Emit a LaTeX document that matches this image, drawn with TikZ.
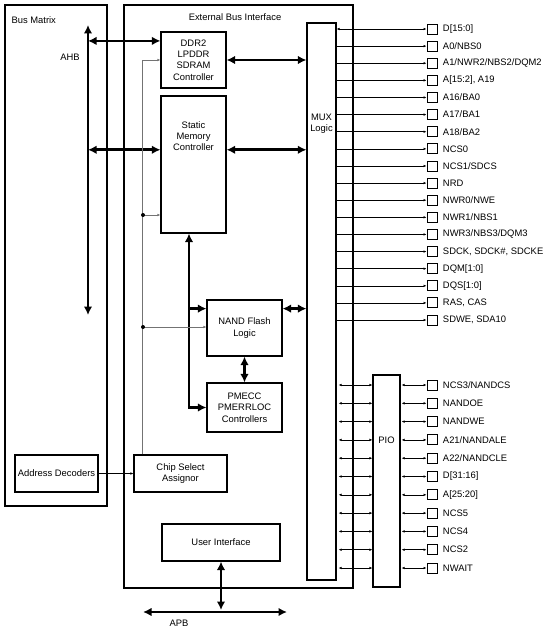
\documentclass[tikz,border=0pt]{standalone}
\usepackage{fontspec}
\setmainfont{Liberation Sans}
\usetikzlibrary{arrows.meta}
\begin{document}
\begin{tikzpicture}[x=1pt,y=-1pt,>={Latex[length=3pt,width=2.6pt]}]
    \tikzstyle{every node}=[font=\fontsize{9.4}{11.3}\selectfont]
    \tikzstyle{blk}=[draw,line width=1.1pt,align=center,inner sep=0pt]
    \tikzstyle{bus}=[line width=2.8pt,{Latex[length=8.5pt,width=8.5pt]}-{Latex[length=8.5pt,width=8.5pt]}]
    \tikzstyle{tobus}=[line width=2.8pt,-{Latex[length=8.5pt,width=8.5pt]}]
    \tikzstyle{ctl}=[black!55,line width=0.7pt]
    \tikzstyle{sig}=[line width=0.6pt]
    \tikzstyle{pad}=[draw,line width=0.9pt,minimum size=10pt,inner sep=0pt]

    \useasboundingbox (0,0) rectangle (550,631);

    % outer blocks
    \node[blk,minimum width=102pt,minimum height=501pt] (bm) at (56,255.5) {};
    \node[right] (bmlabel) at (8,20) {Bus Matrix};
    \node[blk,minimum width=229pt,minimum height=583pt] (ebi) at (238.5,296.5) {};
    \node (ebilabel) at (235,17) {External Bus Interface};

    % inner blocks
    \node[blk,minimum width=65pt,minimum height=56pt] (ddr) at (193.5,60)
    {DDR2\\LPDDR\\SDRAM\\Controller};
    \node[blk,minimum width=65pt,minimum height=137pt] (smc) at (193.5,164.5) {};
    \node[align=center] (smclabel) at (193.5,136) {Static\\Memory\\Controller};
    \node[blk,minimum width=75pt,minimum height=56pt] (nand) at (244.5,328)
    {NAND Flash\\Logic};
    \node[blk,minimum width=75pt,minimum height=49pt] (pmecc) at (244.5,407.5)
    {PMECC\\PMERRLOC\\Controllers};
    \node[blk,minimum width=29pt,minimum height=557pt] (mux) at (321.5,301.5) {};
    \node[align=center] (muxlabel) at (321.5,124) {MUX\\Logic};
    \node[blk,minimum width=27pt,minimum height=212pt] (pio) at (386.5,481) {};
    \node (piolabel) at (386.5,440) {PIO};
    \node[blk,minimum width=83pt,minimum height=37pt] (addr) at (56.5,473.5)
    {Address Decoders};
    \node[blk,minimum width=93pt,minimum height=37pt] (csa) at (180.5,473.5)
    {Chip Select\\Assignor};
    \node[blk,minimum width=118pt,minimum height=37pt] (ui) at (221,542.5)
    {User Interface};

    % AHB side
    \coordinate (ahbt) at (88,25);
    \coordinate (ahbb) at (88,315);
    \draw[bus] (ahbt) -- (ahbb);
    \node (ahb) at (70,57) {AHB};
    \draw[bus] (ahbt |- ddr.150) -- (ddr.150);
    \draw[bus] (ahbt |- smc.156) -- (smc.156);

    % to MUX
    \draw[bus] (ddr.east) -- (mux.west |- ddr.east);
    \draw[bus] (smc.24) -- (mux.west |- smc.24);
    \draw[bus] (nand.27) -- (mux.west |- nand.27);

    % NAND path
    \coordinate (nb) at ([xshift=-4.5pt]smc.south);
    \draw[bus] (nb) |- (pmecc.west);
    \draw[tobus] (nb |- nand.153) -- (nand.153);
    \draw[bus] (nand.south) -- (pmecc.north);

    % chip selects
    \coordinate (cs) at ([xshift=9pt]csa.north west);
    \coordinate (tap1) at (143,215);
    \coordinate (tap2) at (143,327);
    \draw[ctl,->] (cs) |- (ddr.west);
    \draw[ctl,->] (tap1) -- (tap1 -| smc.west);
    \draw[ctl,->] (tap2) -- (tap2 -| nand.west);
    \fill (tap1) circle (2pt);
    \fill (tap2) circle (2pt);
    \draw[sig,->] (addr.east) -- (csa.west);

    % APB
    \coordinate (apbl) at (143,612);
    \coordinate (apbr) at (287,612);
    \draw[bus] (apbl) -- (apbr);
    \draw[bus,shorten >=2pt] (ui.south) -- (ui.south |- apbl);
    \node (apb) at (179,623) {APB};

    % EBI pins
    \foreach \name [count=\i] in {{D[15:0]},{A0/NBS0},{A1/NWR2/NBS2/DQM2},{A[15:2], A19},
        {A16/BA0},{A17/BA1},{A18/BA2},{NCS0},{NCS1/SDCS},{NRD},{NWR0/NWE},
        {NWR1/NBS1},{NWR3/NBS3/DQM3},{SDCK, SDCK\#, SDCKE},{DQM[1:0]},{DQS[1:0]},
        {RAS, CAS},{SDWE, SDA10}} {
        \node[pad] (m\i) at (432,29+17.12*\i-17.12) {};
        \node[right,xshift=2pt] (ml\i) at (m\i.east) {\name};
        \ifnum\i=1
            \draw[sig,<->] (mux.east |- m\i) -- (m\i);
        \else
            \draw[sig,->] (mux.east |- m\i) -- (m\i);
        \fi
    }

    % PIO pins
    \foreach \name [count=\i] in {{NCS3/NANDCS},{NANDOE},{NANDWE},{A21/NANDALE},
        {A22/NANDCLE},{D[31:16]},{A[25:20]},{NCS5},{NCS4},{NCS2},{NWAIT}} {
        \node[pad] (p\i) at (432,385+18.3*\i-18.3) {};
        \node[right,xshift=2pt] (pl\i) at (p\i.east) {\name};
        \draw[sig,<->,shorten <=2pt] (mux.east |- p\i) -- (pio.west |- p\i);
        \draw[sig,<->,shorten <=1pt] (pio.east |- p\i) -- (p\i);
    }
\end{tikzpicture}
\end{document}
